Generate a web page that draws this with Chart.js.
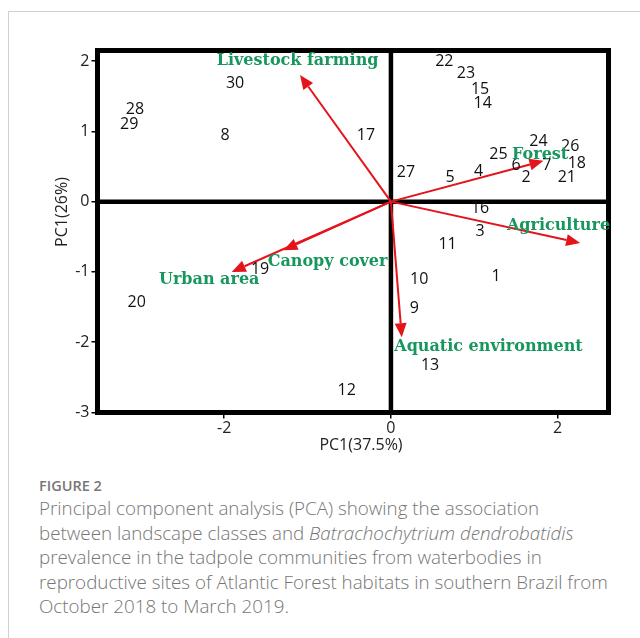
<!DOCTYPE html>
<html>
<head>
<meta charset="utf-8">
<script src="https://cdn.jsdelivr.net/npm/chart.js@4.4.1/dist/chart.umd.min.js"></script>
<style>
body{margin:0;background:#fff;width:640px;height:638px;overflow:hidden;position:relative;font-family:"Open Sans",sans-serif}
#card{position:absolute;left:8px;top:11px;width:700px;height:700px;border:1px solid #d0d0d0}
#wrap{position:absolute;left:0;top:0;width:640px;height:470px}
#fig{position:absolute;left:39px;top:476px;font-size:14.5px;line-height:20px;color:#777;font-weight:600}
#cap{position:absolute;left:39px;top:496px;font-size:18.8px;line-height:24.5px;color:#757575;font-weight:300;white-space:nowrap}
</style>
</head>
<body>
<div id="card"></div>
<div id="wrap"><canvas id="pca" width="640" height="470"></canvas></div>
<div id="fig">FIGURE 2</div>
<div id="cap">Principal component analysis (PCA) showing the association<br>between landscape classes and <i>Batrachochytrium dendrobatidis</i><br>prevalence in the tadpole communities from waterbodies in<br>reproductive sites of Atlantic Forest habitats in southern Brazil from<br>October 2018 to March 2019.</div>
<script>
// sites (scores)
const siteIds = ['1','2','3','4','5','6','7','8','9','10','11','12','13','14','15','16','17','18','19','20','21','22','23','24','25','26','27','28','29','30'];
const siteX = [1.26, 1.62, 1.07, 1.05, 0.71, 1.50, 1.87, -1.99, 0.28, 0.34, 0.68, -0.53, 0.47, 1.10, 1.07, 1.07, -0.30, 2.23, -1.57, -3.05, 2.11, 0.64, 0.90, 1.77, 1.29, 2.15, 0.18, -3.07, -3.14, -1.87];
const siteY = [-1.06, 0.34, -0.43, 0.43, 0.35, 0.51, 0.52, 0.94, -1.52, -1.11, -0.61, -2.68, -2.33, 1.39, 1.60, -0.10, 0.94, 0.54, -0.97, -1.43, 0.34, 2.00, 1.83, 0.85, 0.67, 0.78, 0.42, 1.31, 1.10, 1.68];
// landscape variables (loadings)
const varNames = ['Livestock farming', 'Forest', 'Agriculture', 'Canopy cover', 'Urban area', 'Aquatic environment'];
const varX = [-1.09, 1.83, 2.27, -1.29, -1.91, 0.13];
const varY = [1.80, 0.58, -0.59, -0.69, -1.00, -1.93];
const varLabelX = [-1.12, 1.79, 2.01, -0.76, -2.18, 1.17];
const varLabelY = [2.00, 0.67, -0.35, -0.85, -1.11, -2.06];
const xTicks = [-2, 0, 2];
const yTicks = [-3, -2, -1, 0, 1, 2];

const tickFont = {family: '"Open Sans", sans-serif', size: 16};

// frame, zero lines, arrows, labels
const pcaDecor = {
    id: 'pcaDecor',
    beforeDatasetsDraw(chart) {
        const {ctx, chartArea: a, scales: {x, y}} = chart;
        const x0 = x.getPixelForValue(0), y0 = y.getPixelForValue(0);
        ctx.save();
        ctx.strokeStyle = '#000';
        ctx.lineWidth = 4.5;
        ctx.beginPath();
        ctx.moveTo(x0, a.top); ctx.lineTo(x0, a.bottom);
        ctx.moveTo(a.left, y0); ctx.lineTo(a.right, y0);
        ctx.stroke();
        ctx.lineWidth = 5;
        ctx.strokeRect(a.left, a.top, a.right - a.left, a.bottom - a.top);
        // arrows
        ctx.strokeStyle = '#e3141b';
        ctx.fillStyle = '#e3141b';
        ctx.lineWidth = 2;
        varNames.forEach((n, i) => {
            const tx = x.getPixelForValue(varX[i]), ty = y.getPixelForValue(varY[i]);
            const ang = Math.atan2(ty - y0, tx - x0);
            const hl = 14, hw = 6;
            const bx = tx - hl * Math.cos(ang), by = ty - hl * Math.sin(ang);
            ctx.beginPath();
            ctx.moveTo(x0, y0); ctx.lineTo(bx, by);
            ctx.stroke();
            ctx.beginPath();
            ctx.moveTo(tx, ty);
            ctx.lineTo(bx + hw * Math.sin(ang), by - hw * Math.cos(ang));
            ctx.lineTo(bx - hw * Math.sin(ang), by + hw * Math.cos(ang));
            ctx.closePath();
            ctx.fill();
        });
        ctx.restore();
    },
    afterDatasetsDraw(chart) {
        const {ctx, scales: {x, y}} = chart;
        ctx.save();
        ctx.textAlign = 'center';
        ctx.textBaseline = 'middle';
        // site numbers
        ctx.fillStyle = '#111';
        ctx.font = '16px "Open Sans", sans-serif';
        const meta = chart.getDatasetMeta(0);
        meta.data.forEach((pt, i) => {
            ctx.fillText(siteIds[i], pt.x, pt.y);
        });
        // variable names
        ctx.fillStyle = '#17975d';
        ctx.font = 'bold 16px "DejaVu Serif", serif';
        varNames.forEach((n, i) => {
            ctx.fillText(n, x.getPixelForValue(varLabelX[i]), y.getPixelForValue(varLabelY[i]));
        });
        ctx.restore();
    },
    afterDraw(chart) {
        const {ctx} = chart;
        ctx.save();
        ctx.fillStyle = '#222';
        ctx.font = '16px "Open Sans", sans-serif';
        ctx.textAlign = 'center';
        ctx.textBaseline = 'middle';
        ctx.fillText('PC1(37.5%)', 361, 445);
        ctx.translate(62, 212);
        ctx.rotate(-Math.PI / 2);
        ctx.fillText('PC1(26%)', 0, 0);
        ctx.restore();
    }
};

new Chart(document.getElementById('pca'), {
    type: 'scatter',
    data: {
        datasets: [{
            label: 'sites',
            data: siteX.map((v, i) => ({x: v, y: siteY[i]})),
            pointRadius: 0,
            pointHoverRadius: 0
        }]
    },
    options: {
        responsive: false,
        animation: false,
        devicePixelRatio: 1,
        layout: {padding: {top: 50.5, right: 31.5, left: 0, bottom: 0}},
        plugins: {legend: {display: false}, tooltip: {enabled: false}},
        scales: {
            x: {
                type: 'linear', min: -3.52, max: 2.61,
                afterBuildTicks: s => { s.ticks = xTicks.map(v => ({value: v})); },
                afterFit: s => { s.height = 57.5; },
                grid: {drawOnChartArea: false, tickLength: 6, color: '#000', lineWidth: 1.5},
                border: {display: false},
                ticks: {font: tickFont, color: '#222', padding: 0, maxRotation: 0, autoSkip: false}
            },
            y: {
                type: 'linear', min: -3, max: 2.15,
                afterBuildTicks: s => { s.ticks = yTicks.map(v => ({value: v})); },
                afterFit: s => { s.width = 97.5; },
                grid: {drawOnChartArea: false, tickLength: 6, color: '#000', lineWidth: 1.5},
                border: {display: false},
                ticks: {font: tickFont, color: '#222', padding: 2, autoSkip: false}
            }
        }
    },
    plugins: [pcaDecor]
});
</script>
</body>
</html>
